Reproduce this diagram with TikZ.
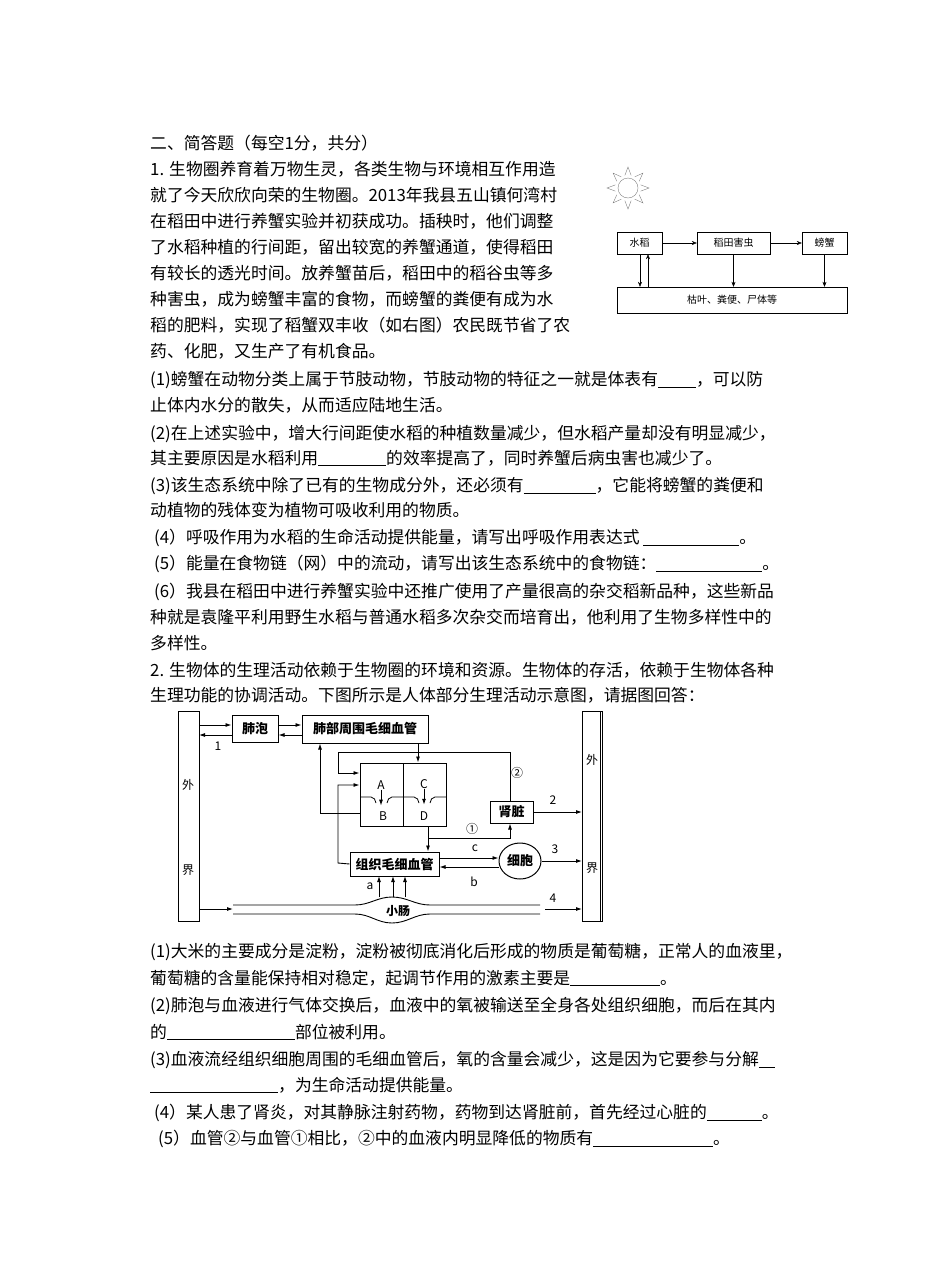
\documentclass[tikz,border=0pt]{standalone}
\usepackage{fontspec}
\setmainfont{Noto Sans CJK SC}
\usetikzlibrary{arrows.meta,calc,shapes.geometric}
\begin{document}
\begin{tikzpicture}[x=1pt,y=-1pt,
  tl/.style={anchor=west,inner sep=0pt,font=\fontsize{16.8}{20}\selectfont},
  fb/.style={draw,thin,minimum height=22pt,inner sep=1pt,font=\fontsize{10}{12}\selectfont},
  bb/.style={draw,line width=1pt,inner sep=1pt,font=\fontsize{13}{14}\selectfont\bfseries},
  ar/.style={-{Stealth[length=5pt,width=4pt]}},
  br/.style={-{Latex[length=6pt,width=4pt]},line width=0.9pt},
  lb/.style={inner sep=0pt,font=\fontsize{12}{13}\selectfont}]
\useasboundingbox (0,0) rectangle (950,1283);
\newcommand{\bl}[1]{\underline{\hspace{#1pt}}}
% ---------- text ----------
\node[tl] (t0) at (150,143) {二、简答题（每空1分，共分）};
\node[tl] (t1) at (150,169) {1. 生物圈养育着万物生灵，各类生物与环境相互作用造};
\node[tl] (t2) at (150,195) {就了今天欣欣向荣的生物圈。2013年我县五山镇何湾村};
\node[tl] (t3) at (150,221) {在稻田中进行养蟹实验并初获成功。插秧时，他们调整};
\node[tl] (t4) at (150,247) {了水稻种植的行间距，留出较宽的养蟹通道，使得稻田};
\node[tl] (t5) at (150,273) {有较长的透光时间。放养蟹苗后，稻田中的稻谷虫等多};
\node[tl] (t6) at (150,299) {种害虫，成为螃蟹丰富的食物，而螃蟹的粪便有成为水};
\node[tl] (t7) at (150,325) {稻的肥料，实现了稻蟹双丰收（如右图）农民既节省了农};
\node[tl] (t8) at (150,351) {药、化肥，又生产了有机食品。};
\node[tl] (t9) at (150,380) {(1)螃蟹在动物分类上属于节肢动物，节肢动物的特征之一就是体表有\bl{38}，可以防};
\node[tl] (t10) at (150,405) {止体内水分的散失，从而适应陆地生活。};
\node[tl] (t11) at (150,434) {(2)在上述实验中，增大行间距使水稻的种植数量减少，但水稻产量却没有明显减少，};
\node[tl] (t12) at (150,458) {其主要原因是水稻利用\bl{68}的效率提高了，同时养蟹后病虫害也减少了。};
\node[tl] (t13) at (150,486) {(3)该生态系统中除了已有的生物成分外，还必须有\bl{72}，它能将螃蟹的粪便和};
\node[tl] (t14) at (150,510) {动植物的残体变为植物可吸收利用的物质。};
\node[tl] (t15) at (154,538) {(4）呼吸作用为水稻的生命活动提供能量，请写出呼吸作用表达式 \bl{96}。};
\node[tl] (t16) at (154,564) {(5）能量在食物链（网）中的流动，请写出该生态系统中的食物链：\bl{106}。};
\node[tl] (t17) at (154,592) {(6）我县在稻田中进行养蟹实验中还推广使用了产量很高的杂交稻新品种，这些新品};
\node[tl] (t18) at (150,617) {种就是袁隆平利用野生水稻与普通水稻多次杂交而培育出，他利用了生物多样性中的};
\node[tl] (t19) at (150,643) {多样性。};
\node[tl] (t20) at (150,670) {2. 生物体的生理活动依赖于生物圈的环境和资源。生物体的存活，依赖于生物体各种};
\node[tl] (t21) at (150,695) {生理功能的协调活动。下图所示是人体部分生理活动示意图，请据图回答：};
\node[tl] (t22) at (150,952) {(1)大米的主要成分是淀粉，淀粉被彻底消化后形成的物质是葡萄糖，正常人的血液里，};
\node[tl] (t23) at (150,978) {葡萄糖的含量能保持相对稳定，起调节作用的激素主要是\bl{90}。};
\node[tl] (t24) at (150,1006) {(2)肺泡与血液进行气体交换后，血液中的氧被输送至全身各处组织细胞，而后在其内};
\node[tl] (t25) at (150,1032) {的\bl{128}部位被利用。};
\node[tl] (t26) at (150,1060) {(3)血液流经组织细胞周围的毛细血管后，氧的含量会减少，这是因为它要参与分解\bl{16}};
\node[tl] (t27) at (150,1085) {\bl{128}，为生命活动提供能量。};
\node[tl] (t28) at (154,1113) {(4）某人患了肾炎，对其静脉注射药物，药物到达肾脏前，首先经过心脏的\bl{55}。};
\node[tl] (t29) at (158,1139) {(5）血管②与血管①相比，②中的血液内明显降低的物质有\bl{120}。};
% ---------- food web ----------
\draw[gray] (628,188) circle (10);
\foreach \a in {0,45,...,315}
  \draw[gray] ($(628,188)+(\a-14:13)$) -- ($(628,188)+(\a:21)$) -- ($(628,188)+(\a+14:13)$);
\node[fb,minimum width=45pt] (sd) at (639.5,243) {水稻};
\node[fb,minimum width=73pt] (hc) at (733.5,243) {稻田害虫};
\node[fb,minimum width=45pt] (px) at (824.5,243) {螃蟹};
\node[fb,minimum width=230pt,minimum height=26pt] (kd) at (732,300) {枯叶、粪便、尸体等};
\draw[ar] (sd) -- (hc);
\draw[ar] (hc) -- (px);
\draw[ar] (sd.south -| 640,0) -- (kd.north -| 640,0);
\draw[ar] (kd.north -| 648,0) -- (sd.south -| 648,0);
\draw[ar] (hc) -- (kd.north -| hc);
\draw[ar] (px) -- (kd.north -| px);
% ---------- body diagram ----------
\draw[line width=1pt] (178,711) rectangle (199,921);
\draw[line width=1pt] (582,711) rectangle (602,921);
\draw[line width=0.6pt] (600,711) -- (600,921);
\node[lb] (w1) at (188,785) {外};
\node[lb] (j1) at (188,870) {界};
\node[lb] (w2) at (592,760) {外};
\node[lb] (j2) at (592,868) {界};
\node[bb,minimum width=46pt,minimum height=27pt] (fp) at (255,728.5) {肺泡};
\node[bb,minimum width=126pt,minimum height=28pt] (fb) at (365,729) {肺部周围毛细血管};
\node[draw,line width=1pt,minimum width=86pt,minimum height=63pt,inner sep=0pt] (ht) at (403,794.5) {};
\draw[line width=1pt] (403,763) -- (403,826);
\node[lb] (A) at (381,785) {A};
\node[lb] (B) at (383,816) {B};
\node[lb] (C) at (424,784) {C};
\node[lb] (D) at (424,816) {D};
\draw[br] (A.south) -- ++(0,16);
\draw[br] (C.south) -- ++(0,16);
\draw[line width=0.8pt] (360,797) -- (371,797) to[out=0,in=100] (376,803);
\draw[line width=0.8pt] (387,803) to[out=80,in=180] (392,797) -- (403,797);
\draw[line width=0.8pt] (403,797) -- (414,797) to[out=0,in=100] (419,803);
\draw[line width=0.8pt] (430,803) to[out=80,in=180] (435,797) -- (446,797);
\node[bb,minimum width=43pt,minimum height=22pt] (sz) at (511.5,812) {肾脏};
\node[bb,minimum width=89pt,minimum height=24pt] (zz) at (394.5,864) {组织毛细血管};
\node[draw,line width=1pt,ellipse,minimum width=42pt,minimum height=36pt,inner sep=0pt,font=\fontsize{13}{14}\selectfont\bfseries] (xb) at (520,861) {细胞};
\draw[br] (fp.east |- 0,725) -- (fb.west |- 0,725);
\draw[br] (fb.west |- 0,735) -- (fp.east |- 0,735);
\draw[br] (199,725) -- (fp.west |- 0,725);
\draw[br] (fp.west |- 0,735) -- (199,735);
\node[lb] (n1) at (218,746) {1};
\draw[br] (fb.south -| 418,0) -- (ht.north -| 418,0);
\draw[br] (sz.north -| 510,0) -- (510,752) -- (338,752) -- (338,773) -- (ht.west |- 0,773);
\node[lb] (c2) at (517,773) {②};
\draw[br] (zz.west) -- (338,863) -- (338,785) -- (ht.west |- 0,785);
\draw[br] (ht.west |- 0,813) -- (320,813) -- (fb.south -| 320,0);
\draw[br] (ht.south -| 428,0) -- (zz.north -| 428,0);
\draw[br] (428,838) -- (510,838) -- (sz.south -| 510,0);
\node[lb] (c1) at (472,829) {①};
\draw[br] (sz.east) -- (582,812);
\node[lb] (n2) at (553,800) {2};
\draw[br] (zz.east |- 0,858) -- (xb.west |- 0,858);
\draw[br] (xb.west |- 0,867) -- (zz.east |- 0,867);
\node[lb] (lc) at (475,848) {c};
\node[lb] (lbb) at (474,882) {b};
\draw[br] (xb.east) -- (582,861);
\node[lb] (n3) at (555,849) {3};
\foreach \x in {379,393,405} \draw[br] (\x,897) -- (\x,876);
\node[lb] (la) at (370,886) {a};
\draw[line width=0.9pt] (233,905) -- (355,905) to[out=0,in=180] (392,897) to[out=0,in=180] (430,905) -- (540,905);
\draw[line width=0.9pt] (233,914) -- (355,914) to[out=0,in=180] (392,923) to[out=0,in=180] (430,914) -- (540,914);
\node[lb] (xc) at (398,911) {\bfseries 小肠};
\draw[br] (199,909) -- (233,909);
\draw[br] (545,909) -- (582,909);
\node[lb] (n4) at (553,898) {4};
\end{tikzpicture}
\end{document}
